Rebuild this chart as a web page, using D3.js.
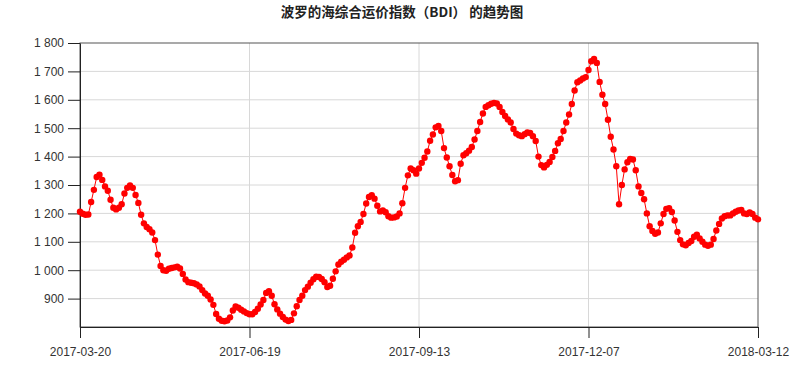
<!DOCTYPE html>
<html>
<head>
<meta charset="utf-8">
<script src="https://cdn.jsdelivr.net/npm/d3@7"></script>
<style>
  body { margin: 0; background: #fff; }
  text { font-family: "Liberation Sans", Arial, sans-serif; }
</style>
</head>
<body>
<svg id="chart"></svg>
<script>
const bdiValues = [
  1206, 1199, 1195, 1196, 1240, 1283, 1328, 1336, 1318, 1295,
  1280, 1248, 1220, 1214, 1220, 1232, 1270, 1290, 1298, 1290,
  1265, 1237, 1195, 1165, 1152, 1144, 1133, 1106, 1055, 1015,
  1000, 998, 1005, 1008, 1010, 1012, 1006, 987, 967, 958,
  956, 954, 950, 943, 930, 918, 910, 897, 878, 846,
  829, 822, 820, 823, 834, 858, 872, 868, 861, 855,
  849, 845, 845, 853, 864, 879, 895, 920, 926, 910,
  880, 862, 847, 835, 826, 821, 825, 848, 873, 895,
  910, 930, 942, 956, 968, 977, 976, 969, 958, 941,
  945, 970, 996, 1020, 1030, 1037, 1045, 1052, 1080, 1132,
  1155, 1170, 1198, 1235, 1258, 1264, 1252, 1227, 1207, 1210,
  1204, 1190, 1185, 1186, 1189, 1200, 1236, 1290, 1334, 1358,
  1352, 1340, 1358, 1378, 1396, 1418, 1456, 1478, 1503, 1508,
  1490, 1430, 1397, 1366, 1335, 1313, 1317, 1375, 1405, 1412,
  1421, 1434, 1460, 1490, 1522, 1552, 1575, 1581, 1586, 1589,
  1587, 1575, 1557, 1543, 1531, 1520, 1497, 1481, 1475, 1472,
  1479, 1485, 1483, 1472, 1455, 1400, 1370, 1362, 1371, 1381,
  1399, 1420, 1447, 1462, 1490, 1520, 1548, 1585, 1633, 1662,
  1668, 1675, 1680, 1705, 1736, 1744, 1730, 1663, 1618, 1585,
  1530, 1470, 1425, 1366, 1232, 1300, 1355, 1380, 1392, 1390,
  1352, 1295, 1272, 1250, 1200, 1155, 1138, 1128, 1133, 1165,
  1198, 1216, 1218, 1205, 1175, 1135, 1106, 1091, 1088, 1096,
  1103, 1118, 1125, 1112, 1100, 1090, 1086, 1090, 1110, 1140,
  1163, 1182, 1190, 1193, 1193, 1200, 1206, 1210, 1212, 1200,
  1198, 1203, 1198, 1185, 1179
];

// x tick labels and the observation they sit on
const tickDates = ["2017-03-20", "2017-06-19", "2017-09-13", "2017-12-07", "2018-03-12"];
const tickObs = [0, 61, 122, 183, 244];

const yTicks = [900, 1000, 1100, 1200, 1300, 1400, 1500, 1600, 1700, 1800];
const title = "波罗的海综合运价指数（BDI） 的趋势图";

const width = 800, height = 379;
const margin = { top: 43, right: 42, bottom: 52, left: 80 };
const innerW = width - margin.left - margin.right;
const innerH = height - margin.top - margin.bottom;

const svg = d3.select("#chart")
  .attr("width", width)
  .attr("height", height);

const chart = svg.append("g")
  .attr("transform", `translate(${margin.left}, ${margin.top})`);

const xscale = d3.scaleLinear()
  .domain([0, bdiValues.length - 1])
  .range([0, innerW]);

const yscale = d3.scaleLinear()
  .domain([800, 1800])
  .range([innerH, 0]);

const spaceFmt = d3.formatLocale({ decimal: ".", thousands: " ", grouping: [3], currency: ["", ""] }).format(",");

// grid
chart.append("g")
  .selectAll("line.hgrid")
  .data(yTicks.filter(d => d < 1800))
  .join("line")
  .attr("class", "hgrid")
  .attr("x1", 0).attr("x2", innerW)
  .attr("y1", d => yscale(d)).attr("y2", d => yscale(d))
  .attr("stroke", "#d8d8d8")
  .attr("stroke-width", 1);

chart.append("g")
  .selectAll("line.vgrid")
  .data(tickObs.slice(1, -1))
  .join("line")
  .attr("class", "vgrid")
  .attr("x1", d => xscale(d)).attr("x2", d => xscale(d))
  .attr("y1", 0).attr("y2", innerH)
  .attr("stroke", "#d8d8d8")
  .attr("stroke-width", 1);

// frame
chart.append("rect")
  .attr("x", 0).attr("y", 0)
  .attr("width", innerW).attr("height", innerH)
  .attr("fill", "none")
  .attr("stroke", "#555")
  .attr("stroke-width", 1);

// axes
const yaxis = d3.axisLeft(yscale)
  .tickValues(yTicks)
  .tickFormat(spaceFmt)
  .tickSize(12)
  .tickSizeOuter(0)
  .tickPadding(4);

const xaxis = d3.axisBottom(xscale)
  .tickValues(tickObs)
  .tickFormat((d, i) => tickDates[i])
  .tickSize(11)
  .tickSizeOuter(0)
  .tickPadding(9);

const yg = chart.append("g").call(yaxis);
const xg = chart.append("g")
  .attr("transform", `translate(0, ${innerH})`)
  .call(xaxis);

[yg, xg].forEach(g => {
  g.selectAll("path, line").attr("stroke", "#222");
  g.selectAll("text")
    .attr("fill", "#333")
    .style("font-size", "12px")
    .style("font-family", "'Liberation Sans', Arial, sans-serif");
});

// series
const line = d3.line()
  .x((d, i) => xscale(i))
  .y(d => yscale(d));

chart.append("path")
  .datum(bdiValues)
  .attr("d", line)
  .attr("fill", "none")
  .attr("stroke", "#ff0000")
  .attr("stroke-width", 1);

chart.append("g")
  .selectAll("circle")
  .data(bdiValues)
  .join("circle")
  .attr("cx", (d, i) => xscale(i))
  .attr("cy", d => yscale(d))
  .attr("r", 3.2)
  .attr("fill", "#ff0000");

// title
svg.append("text")
  .attr("x", 402)
  .attr("y", 17)
  .attr("text-anchor", "middle")
  .style("font-family", "'Noto Sans CJK SC', sans-serif")
  .style("font-size", "13.5px")
  .style("font-weight", "bold")
  .attr("fill", "#222")
  .text(title);
</script>
</body>
</html>
